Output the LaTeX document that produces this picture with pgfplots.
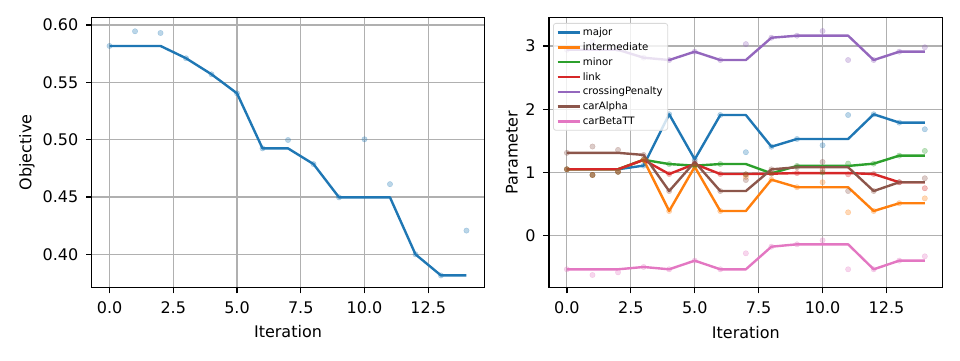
\documentclass[border=0pt]{standalone}
\usepackage{pgfplots}
\usepackage{pgfplotstable}
\pgfplotsset{compat=1.18}
\usepackage{fontspec}
\setmainfont{DejaVu Sans}
\newcommand\mpl{\fontsize{16bp}{19bp}\selectfont}
\definecolor{C0}{HTML}{1F77B4}
\definecolor{C1}{HTML}{FF7F0E}
\definecolor{C2}{HTML}{2CA02C}
\definecolor{C3}{HTML}{D62728}
\definecolor{C4}{HTML}{9467BD}
\definecolor{C5}{HTML}{8C564B}
\definecolor{C6}{HTML}{E377C2}
\definecolor{gridc}{HTML}{B0B0B0}

\pgfplotstableread{
it obj best
0 0.5817 0.5817
1 0.5945 0.5817
2 0.5930 0.5817
3 0.5710 0.5710
4 0.5570 0.5570
5 0.5404 0.5404
6 0.4924 0.4924
7 0.4997 0.4924
8 0.4787 0.4787
9 0.4497 0.4497
10 0.5003 0.4497
11 0.4612 0.4497
12 0.4000 0.4000
13 0.3816 0.3816
14 0.4207 0.3816
}\objtab

\pgfplotstableread{
it maj int min lnk cp ca cb majT intT minT lnkT cpT caT cbT
0  1.050 1.050 1.050 1.050 2.940 1.310 -0.532  1.050 1.050 1.050 1.050 2.940 1.310 -0.532
1  1.050 1.050 1.050 1.050 2.940 1.310 -0.532  0.960 0.960 0.960 0.960 3.060 1.410 -0.622
2  1.050 1.050 1.050 1.050 2.940 1.310 -0.532  1.010 1.010 1.010 1.010 2.950 1.356 -0.580
3  1.108 1.200 1.200 1.198 2.815 1.277 -0.495  1.108 1.200 1.200 1.198 2.815 1.277 -0.495
4  1.920 0.390 1.133 0.975 2.778 0.706 -0.532  1.920 0.390 1.133 0.975 2.778 0.706 -0.532
5  1.207 1.090 1.107 1.133 2.910 1.165 -0.395  1.207 1.090 1.107 1.133 2.910 1.165 -0.395
6  1.908 0.390 1.133 0.975 2.778 0.706 -0.532  1.908 0.390 1.133 0.975 2.778 0.706 -0.532
7  1.908 0.390 1.133 0.975 2.778 0.706 -0.532  1.320 0.930 0.970 0.970 3.030 0.880 -0.279
8  1.407 0.886 0.986 0.980 3.131 1.049 -0.174  1.407 0.886 0.986 0.980 3.131 1.049 -0.174
9  1.529 0.766 1.103 0.990 3.163 1.082 -0.137  1.529 0.766 1.103 0.990 3.163 1.082 -0.137
10 1.529 0.766 1.103 0.990 3.163 1.082 -0.137  1.430 0.845 1.000 1.040 3.237 1.166 -0.074
11 1.529 0.766 1.103 0.990 3.163 1.082 -0.137  1.908 0.369 1.140 0.970 2.778 0.706 -0.532
12 1.920 0.390 1.139 0.975 2.778 0.706 -0.532  1.920 0.390 1.139 0.975 2.778 0.706 -0.532
13 1.788 0.513 1.266 0.845 2.910 0.845 -0.395  1.788 0.513 1.266 0.845 2.910 0.845 -0.395
14 1.788 0.513 1.266 0.845 2.910 0.845 -0.395  1.683 0.590 1.340 0.750 2.980 0.908 -0.327
}\partab

\pgfplotsset{
  mplaxis/.style={
    scale only axis,
    width=392.6bp, height=270.4bp,
    xmin=-0.7, xmax=14.7,
    axis line style={line width=1.28bp, black},
    grid=major,
    major grid style={line width=1.1bp, gridc},
    tick align=outside,
    tick pos=lower,
    major tick length=5.6bp,
    tick style={line width=1.28bp, black},
    xtick={0,2.5,5,7.5,10,12.5},
    /pgf/number format/assume math mode=true,
    tick label style={font=\mpl, inner sep=0pt},
    xticklabel style={anchor=north, yshift=-8.4bp, /pgf/number format/fixed, /pgf/number format/fixed zerofill, /pgf/number format/precision=1},
    yticklabel style={anchor=east, xshift=-7.6bp},
    xlabel={Iteration},
    every axis x label/.style={at={(rel axis cs:0.5,-0.186)}, anchor=base, inner sep=0pt, font=\mpl},
    scaled ticks=false,
  },
  bestline/.style={line width=2.4bp, #1, line join=round},
  trial/.style={only marks, mark=*, mark size=2.7bp, color=#1, opacity=0.3, forget plot},
}

\begin{document}
\begin{tikzpicture}[x=1bp,y=1bp]
\path[use as bounding box] (0,0) rectangle (960,360);

\begin{axis}[mplaxis, at={(91.7bp,72.3bp)}, anchor=south west,
  ymin=0.3709, ymax=0.6067,
  ytick={0.40,0.45,0.50,0.55,0.60},
  yticklabel style={/pgf/number format/fixed, /pgf/number format/fixed zerofill, /pgf/number format/precision=2},
  ylabel={Objective},
  every axis y label/.style={at={(rel axis cs:-0.165,0.5)}, rotate=90, anchor=center, inner sep=0pt, font=\mpl}]
\addplot[trial=C0] table[x=it,y=obj] {\objtab};
\addplot[bestline=C0] table[x=it,y=best] {\objtab};
\end{axis}

\begin{axis}[mplaxis, at={(549bp,72.3bp)}, anchor=south west,
  width=393.7bp,
  ymin=-0.823, ymax=3.454,
  ytick={0,1,2,3},
  ylabel={Parameter},
  every axis y label/.style={at={(rel axis cs:-0.094,0.5)}, rotate=90, anchor=center, inner sep=0pt, font=\mpl},
  legend cell align=left,
  legend style={at={(0.0102,0.979)}, anchor=north west, font=\fontsize{10.2bp}{12bp}\selectfont,
    draw=gray!30, line width=0.8bp, rounded corners=2.5bp, fill=white, fill opacity=0.8, text opacity=1,
    inner xsep=3bp, inner ysep=2.5bp, row sep=1.6bp},
  legend image code/.code={\draw[#1] (0bp,0bp) -- (22bp,0bp);}]
\addplot[trial=C0] table[x=it,y=majT] {\partab};
\addplot[trial=C1] table[x=it,y=intT] {\partab};
\addplot[trial=C2] table[x=it,y=minT] {\partab};
\addplot[trial=C3] table[x=it,y=lnkT] {\partab};
\addplot[trial=C4] table[x=it,y=cpT] {\partab};
\addplot[trial=C5] table[x=it,y=caT] {\partab};
\addplot[trial=C6] table[x=it,y=cbT] {\partab};
\addplot[bestline=C0] table[x=it,y=maj] {\partab};
\addlegendentry{major}
\addplot[bestline=C1] table[x=it,y=int] {\partab};
\addlegendentry{intermediate}
\addplot[bestline=C2] table[x=it,y=min] {\partab};
\addlegendentry{minor}
\addplot[bestline=C3] table[x=it,y=lnk] {\partab};
\addlegendentry{link}
\addplot[bestline=C4] table[x=it,y=cp] {\partab};
\addlegendentry{crossingPenalty}
\addplot[bestline=C5] table[x=it,y=ca] {\partab};
\addlegendentry{carAlpha}
\addplot[bestline=C6] table[x=it,y=cb] {\partab};
\addlegendentry{carBetaTT}
\end{axis}
\end{tikzpicture}
\end{document}
